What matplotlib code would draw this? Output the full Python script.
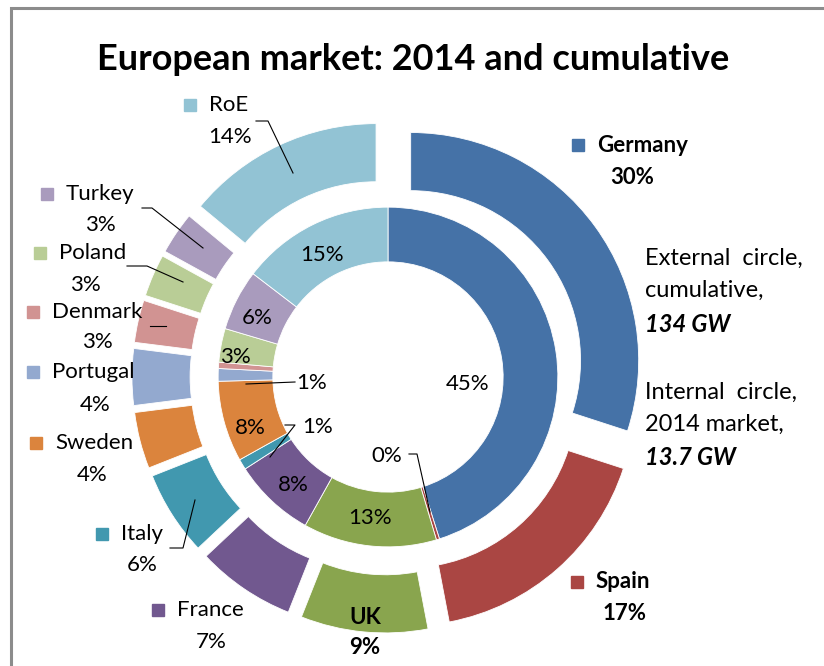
import matplotlib
matplotlib.use('Agg')
import matplotlib.pyplot as plt
from matplotlib.patches import Rectangle

plt.rcParams['font.family'] = ['Lato', 'DejaVu Sans']

# 数据
countries = ['Germany', 'Spain', 'UK', 'France', 'Italy', 'Sweden',
             'Portugal', 'Denmark', 'Poland', 'Turkey', 'RoE']
cumulative = [30, 17, 9, 7, 6, 4, 4, 3, 3, 3, 14]
market_2014 = [45.1, 0.3, 12.7, 7.8, 1.0, 7.7, 1.2, 0.6, 3.2, 5.8, 14.6]
colors = ['#4572A7', '#AA4643', '#89A54E', '#71588F', '#4198AF', '#DB843D',
          '#93A9CF', '#D19392', '#B9CD96', '#A99BBD', '#92C3D4']

W, H = 824, 666
CX, CY, S = 388, 377, 228.0


def px(x, y):
    return (x - CX) / S, (CY - y) / S


def pct(v):
    return f'{int(v + 0.5)}%'


fig = plt.figure(figsize=(W / 100, H / 100), dpi=100)
ax = fig.add_axes([0, 0, 1, 1])

# 外圈：累计
ax.pie(cumulative, radius=1.0, startangle=90, counterclock=False, colors=colors,
       explode=[0.123] * len(cumulative),
       wedgeprops=dict(width=0.255, edgecolor='white', linewidth=0.6))
# 内圈：2014年
ax.pie(market_2014, radius=0.745, startangle=90, counterclock=False, colors=colors,
       wedgeprops=dict(width=0.24, edgecolor='white', linewidth=0.6))

ax.set_aspect('auto')
ax.set_xlim(-CX / S, (W - CX) / S)
ax.set_ylim(-(H - CY) / S, CY / S)
ax.axis('off')

# 边框
fig.patches.append(Rectangle((11, -20), W + 60, H - 8 + 20, transform=None,
                             fill=False, edgecolor='#8c8c8c', linewidth=2.2))

fig.text(413 / W, 1 - 60 / H, 'European market: 2014 and cumulative',
         ha='center', va='center', fontsize=26, fontweight='bold')

FS = 16

# 外圈标签：(方块x, y, 百分比x, 百分比y, 是否粗体)
outer_pos = {
    'Germany': (578, 145, 632, 178, True),
    'Spain': (577, 582, 625, 614, True),
    'UK': (None, 617, 365, 648, True),
    'France': (158, 610, 211, 642, False),
    'Italy': (102, 534, 142, 565, False),
    'Sweden': (36, 443, 92, 475, False),
    'Portugal': (33, 372, 95, 405, False),
    'Denmark': (33, 312, 97, 342, False),
    'Poland': (40, 253, 85, 285, False),
    'Turkey': (47, 194, 100, 225, False),
    'RoE': (190, 105, 230, 137, False),
}
for name, val, col in zip(countries, cumulative, colors):
    sx, sy, tx, ty, bold = outer_pos[name]
    fw = 'bold' if bold else 'normal'
    if sx is None:
        ax.text(*px(tx, sy), name, ha='center', va='center', fontsize=FS, fontweight=fw)
    else:
        ax.plot(*px(sx, sy), marker='s', ms=9, color=col, mec=col)
        ax.text(*px(sx + 19, sy), name, ha='left', va='center', fontsize=FS, fontweight=fw)
    ax.text(*px(tx, ty), pct(val), ha='center', va='center', fontsize=FS, fontweight=fw)

# 内圈标签
inner_pos = {
    'Germany': (468, 384), 'Spain': (387, 456), 'UK': (370, 518),
    'France': (293, 485), 'Italy': (318, 427), 'Sweden': (250, 428),
    'Portugal': (312, 383), 'Poland': (235, 357), 'Turkey': (257, 318),
    'RoE': (322, 255),
}
for name, val in zip(countries, market_2014):
    if name in inner_pos:
        ax.text(*px(*inner_pos[name]), pct(val), ha='center', va='center', fontsize=FS)

# 引线
leaders = [
    [(256, 121), (268, 121), (293, 173)],
    [(142, 208), (152, 208), (203, 248)],
    [(127, 266), (147, 266), (183, 282)],
    [(150, 326), (166, 326)],
    [(170, 548), (183, 548), (195, 500)],
    [(409, 454), (417, 454), (430, 512)],
    [(285, 425), (295, 425), (270, 457)],
    [(295, 382), (246, 384)],
]
for pts in leaders:
    xs, ys = zip(*[px(x, y) for x, y in pts])
    ax.plot(xs, ys, color='black', linewidth=0.8)

# 右侧说明
notes = [
    (258, 'External  circle,', 'normal'), (290, 'cumulative,', 'normal'),
    (325, '134 GW', 'bold'),
    (392, 'Internal  circle,', 'normal'), (424, '2014 market,', 'normal'),
    (458, '13.7 GW', 'bold'),
]
for y, txt, fw in notes:
    ax.text(*px(645, y), txt, ha='left', va='center', fontsize=17, fontweight=fw,
            fontstyle='italic' if fw == 'bold' else 'normal')

fig.savefig('out.png', dpi=100, facecolor='white')
